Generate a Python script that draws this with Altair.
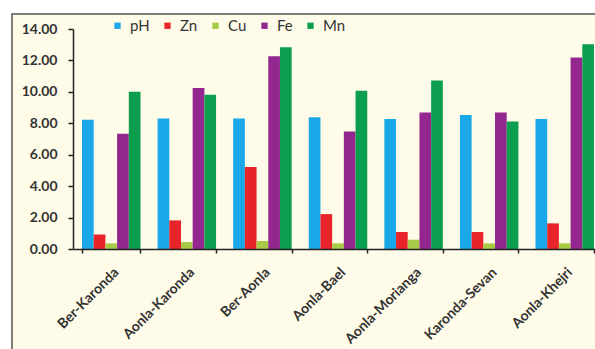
import altair as alt
import pandas as pd

# Soil properties under fruit-tree combinations
categories = ["Ber-Karonda", "Aonla-Karonda", "Ber-Aonla", "Aonla-Bael",
              "Aonla-Morianga", "Karonda-Sevan", "Aonla-Khejri"]
series = ["pH", "Zn", "Cu", "Fe", "Mn"]
ph = [8.22, 8.30, 8.30, 8.38, 8.28, 8.53, 8.28]
zn = [0.93, 1.82, 5.22, 2.22, 1.08, 1.08, 1.63]
cu = [0.36, 0.44, 0.51, 0.36, 0.59, 0.36, 0.36]
fe = [7.33, 10.24, 12.27, 7.47, 8.68, 8.68, 12.18]
mn = [10.01, 9.82, 12.84, 10.07, 10.73, 8.11, 13.03]
y_ticks = [0, 2, 4, 6, 8, 10, 12, 14]

colors = ["#1AA8E8", "#E8232A", "#A7CB46", "#93278F", "#0A9E4E"]

rows = []
for name, vals in zip(series, [ph, zn, cu, fe, mn]):
    for cat, v in zip(categories, vals):
        rows.append({"site": cat, "param": name, "value": v})
df = pd.DataFrame(rows)

FONT = "Lato"
INK = "#333333"
AXIS = "#222222"

# cream panel with a dark frame behind the plot
frame = alt.Chart(pd.DataFrame({"k": [0]})).mark_rect(
    fill="#FEFBE8", stroke="#555555", strokeWidth=1.5
).encode(
    x=alt.value(-61), x2=alt.value(620),
    y=alt.value(-15), y2=alt.value(420),
)

bars = alt.Chart(df).mark_bar().encode(
    x=alt.X("site:N", sort=categories, title=None,
            scale=alt.Scale(range=[0, 530], paddingInner=0.226, paddingOuter=0.119),
            axis=alt.Axis(labelAngle=-45, labelAlign="right", labelBaseline="middle",
                          labelFont=FONT, labelFontWeight="bold", labelFontSize=14,
                          labelColor=INK, labelPadding=17, labelOffset=5,
                          tickBand="extent",
                          tickSize=4, tickColor=AXIS, tickWidth=1.5,
                          domainColor=AXIS, domainWidth=1.5, zindex=1)),
    xOffset=alt.XOffset("param:N", sort=series,
                        scale=alt.Scale(paddingInner=0, paddingOuter=0)),
    y=alt.Y("value:Q", title=None,
            scale=alt.Scale(domain=[0, 14], nice=False),
            axis=alt.Axis(values=y_ticks, format=".2f", grid=False,
                          labelFont=FONT, labelFontWeight="bold", labelFontSize=14,
                          labelColor=INK, labelPadding=11,
                          tickSize=5, tickColor=AXIS, tickWidth=1.5,
                          domainColor=AXIS, domainWidth=1.5, zindex=1)),
    color=alt.Color("param:N", sort=series,
                    scale=alt.Scale(domain=series, range=colors),
                    legend=alt.Legend(title=None, orient="none", direction="horizontal",
                                      legendX=37, legendY=-11, padding=0,
                                      symbolType="square", symbolSize=40,
                                      symbolStrokeWidth=0, symbolOffset=0,
                                      labelFont=FONT, labelFontSize=15,
                                      labelColor=INK, labelOffset=5,
                                      columnPadding=10)),
)

chart = alt.layer(frame, bars).properties(
    width=522, height=220,
    autosize=alt.AutoSizeParams(type="none"),
    padding={"left": 73, "top": 29, "right": 0, "bottom": 100},
    background="#FFFFFF",
).configure_view(stroke=None)

chart.save("out.html", embed_options={"renderer": "svg", "actions": False})
